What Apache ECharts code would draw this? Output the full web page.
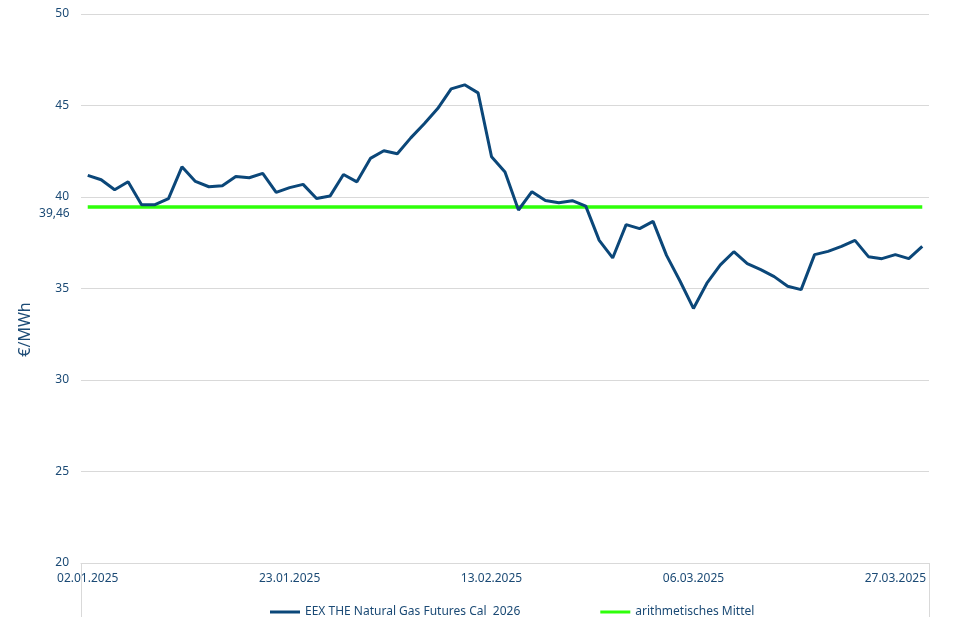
<!DOCTYPE html>
<html>
<head>
<meta charset="utf-8">
<script src="https://cdn.jsdelivr.net/npm/echarts@6/dist/echarts.min.js"></script>
<style>html,body{margin:0;padding:0;background:#fff;}#c{width:974px;height:636px;}</style>
</head>
<body>
<div id="c"></div>
<script>
const categories = [
  "02.01.2025","03.01.2025","06.01.2025","07.01.2025","08.01.2025","09.01.2025","10.01.2025",
  "13.01.2025","14.01.2025","15.01.2025","16.01.2025","17.01.2025",
  "20.01.2025","21.01.2025","22.01.2025","23.01.2025","24.01.2025",
  "27.01.2025","28.01.2025","29.01.2025","30.01.2025","31.01.2025",
  "03.02.2025","04.02.2025","05.02.2025","06.02.2025","07.02.2025",
  "10.02.2025","11.02.2025","12.02.2025","13.02.2025","14.02.2025",
  "17.02.2025","18.02.2025","19.02.2025","20.02.2025","21.02.2025",
  "24.02.2025","25.02.2025","26.02.2025","27.02.2025","28.02.2025",
  "03.03.2025","04.03.2025","05.03.2025","06.03.2025","07.03.2025",
  "10.03.2025","11.03.2025","12.03.2025","13.03.2025","14.03.2025",
  "17.03.2025","18.03.2025","19.03.2025","20.03.2025","21.03.2025",
  "24.03.2025","25.03.2025","26.03.2025","27.03.2025","28.03.2025",
  "31.03.2025"
];
const gasPrices = [
  41.18,40.94,40.40,40.83,39.58,39.58,39.91,41.65,40.85,40.56,40.62,41.12,41.05,41.29,40.25,40.51,40.69,39.92,40.05,
  41.23,40.83,42.11,42.53,42.36,43.23,44.00,44.83,45.91,46.13,45.69,42.20,41.36,39.29,40.29,39.81,39.69,39.80,39.50,37.63,36.67,38.49,38.27,
  38.67,36.81,35.41,33.91,35.29,36.29,37.01,36.36,36.03,35.65,35.12,34.94,36.85,37.03,37.30,37.63,36.74,36.63,36.85,36.63,37.30
];
const meanValue = 39.46;
const meanLabel = "39,46";
const meanSeries = categories.map(() => meanValue);
const seriesNames = ["EEX THE Natural Gas Futures Cal  2026", "arithmetisches Mittel"];
const yTicks = { min: 20, max: 50, interval: 5 };
const yAxisName = "€/MWh";

const textColor = "#1b4a75";
const font = "Noto Sans";
const chart = echarts.init(document.getElementById('c'), null, { renderer: 'canvas' });

const meanData = meanSeries.map((v, i) => i === 0 ? {
  value: v,
  label: { show: true, position: 'left', distance: 18, offset: [0, 7], formatter: meanLabel,
           color: textColor, fontSize: 12, fontFamily: font }
} : v);

chart.setOption({
  animation: false,
  backgroundColor: '#ffffff',
  textStyle: { fontFamily: font },
  grid: { left: 81, right: 45, top: 14, bottom: 73, containLabel: false },
  legend: {
    top: 601, left: 265,
    itemWidth: 30, itemHeight: 3, itemGap: 80,
    icon: 'rect',
    textStyle: { color: textColor, fontSize: 12, fontFamily: font },
    data: seriesNames
  },
  xAxis: {
    type: 'category',
    data: categories,
    boundaryGap: true,
    axisLine: { show: true, lineStyle: { color: '#d9d9d9', width: 1 } },
    axisTick: { show: true, length: 54, interval: (i) => i === 0, lineStyle: { color: '#d9d9d9' } },
    axisLabel: { interval: 14, color: textColor, fontSize: 12, fontFamily: font, margin: 10 },
    splitLine: { show: false }
  },
  yAxis: {
    type: 'value',
    min: yTicks.min, max: yTicks.max, interval: yTicks.interval,
    name: yAxisName,
    nameLocation: 'middle',
    nameGap: 48,
    nameRotate: 90,
    nameTextStyle: { color: textColor, fontSize: 16, fontFamily: font, padding: [0, 82, 0, 0] },
    axisLine: { show: false },
    axisTick: { show: false },
    axisLabel: { color: textColor, fontSize: 12, fontFamily: font, margin: 12 },
    splitLine: { show: true, lineStyle: { color: '#d9d9d9', width: 1 } }
  },
  series: [
    {
      name: seriesNames[0],
      type: 'line',
      data: gasPrices,
      showSymbol: false,
      symbol: 'none',
      lineStyle: { color: '#0b4779', width: 3 },
      itemStyle: { color: '#0b4779' },
      z: 3
    },
    {
      name: seriesNames[1],
      type: 'line',
      data: meanData,
      showSymbol: true,
      symbol: 'circle',
      symbolSize: 0,
      lineStyle: { color: '#2eff0a', width: 3.5 },
      itemStyle: { color: '#2eff0a' },
      z: 2
    }
  ]
});
</script>
</body>
</html>
